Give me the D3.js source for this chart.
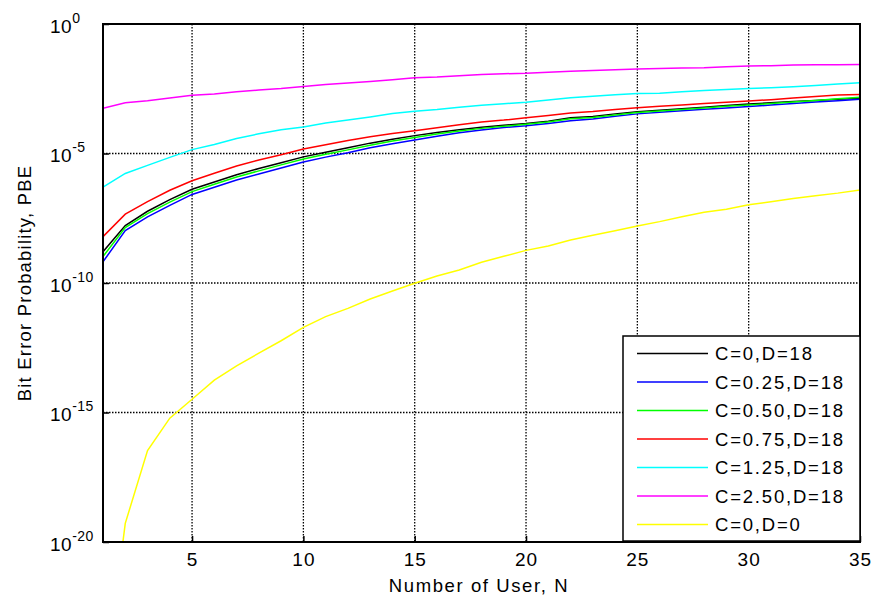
<!DOCTYPE html>
<html lang="en">
<head>
    <title>Bit Error Probability vs Number of Users</title>
    <meta charset="UTF-8">
    <script src="https://cdn.jsdelivr.net/npm/d3@7/dist/d3.min.js"></script>
    <style>
        body { margin: 0; background: #fff; }
        svg text { font-family: "Liberation Sans", Arial, sans-serif; fill: #000; }
    </style>
</head>
<body>
<div id="chart"></div>
<script type="text/javascript">

  // number of users N = 1..35
  const users = d3.range(1, 36);

  // log10(PBE), one value per N
  const c0d18 = [-8.79, -7.78, -7.23, -6.78, -6.38, -6.10, -5.82, -5.58, -5.36, -5.13,
                 -4.95, -4.78, -4.60, -4.45, -4.31, -4.19, -4.08, -3.99, -3.91, -3.84,
                 -3.75, -3.62, -3.57, -3.47, -3.39, -3.33, -3.27, -3.21, -3.15, -3.09,
                 -3.04, -2.99, -2.95, -2.91, -2.87];
  const c025d18 = [-9.18, -7.98, -7.45, -7.00, -6.58, -6.30, -6.02, -5.79, -5.56, -5.33,
                   -5.14, -4.97, -4.78, -4.62, -4.48, -4.33, -4.20, -4.09, -4.00, -3.93,
                   -3.84, -3.74, -3.67, -3.56, -3.47, -3.41, -3.35, -3.29, -3.24, -3.19,
                   -3.13, -3.07, -3.01, -2.96, -2.91];
  const c050d18 = [-8.98, -7.86, -7.32, -6.88, -6.47, -6.19, -5.91, -5.67, -5.44, -5.21,
                   -5.03, -4.86, -4.68, -4.52, -4.38, -4.25, -4.13, -4.03, -3.95, -3.87,
                   -3.78, -3.66, -3.61, -3.51, -3.42, -3.36, -3.30, -3.24, -3.18, -3.13,
                   -3.07, -3.01, -2.95, -2.89, -2.83];
  const c075d18 = [-8.21, -7.34, -6.86, -6.42, -6.05, -5.76, -5.48, -5.25, -5.05, -4.83,
                   -4.66, -4.50, -4.35, -4.23, -4.12, -4.01, -3.89, -3.78, -3.71, -3.62,
                   -3.53, -3.44, -3.38, -3.30, -3.23, -3.18, -3.13, -3.07, -3.02, -2.97,
                   -2.92, -2.86, -2.80, -2.74, -2.72];
  const c125d18 = [-6.30, -5.77, -5.46, -5.15, -4.85, -4.65, -4.42, -4.24, -4.08, -3.98,
                   -3.82, -3.71, -3.59, -3.46, -3.37, -3.30, -3.21, -3.14, -3.08, -3.02,
                   -2.93, -2.85, -2.79, -2.73, -2.68, -2.67, -2.62, -2.57, -2.53, -2.49,
                   -2.46, -2.42, -2.37, -2.32, -2.27];
  const c250d18 = [-3.25, -3.04, -2.96, -2.86, -2.75, -2.70, -2.62, -2.55, -2.49, -2.41,
                   -2.34, -2.28, -2.22, -2.15, -2.08, -2.05, -2.00, -1.95, -1.92, -1.90,
                   -1.86, -1.82, -1.80, -1.77, -1.74, -1.72, -1.70, -1.69, -1.65, -1.62,
                   -1.61, -1.58, -1.57, -1.57, -1.56];
  const c0d0 = [-26.0, -19.28, -16.47, -15.22, -14.49, -13.75, -13.20, -12.71, -12.23, -11.71,
                -11.30, -10.98, -10.62, -10.31, -10.01, -9.73, -9.50, -9.20, -8.97, -8.74,
                -8.57, -8.34, -8.16, -7.98, -7.80, -7.63, -7.44, -7.27, -7.15, -6.98,
                -6.86, -6.74, -6.63, -6.53, -6.41];

  const seriesNames = ['C=0,D=18', 'C=0.25,D=18', 'C=0.50,D=18', 'C=0.75,D=18',
                       'C=1.25,D=18', 'C=2.50,D=18', 'C=0,D=0'];
  const seriesColors = ['#000000', '#0000ff', '#00ff00', '#ff0000', '#00ffff', '#ff00ff', '#ffff00'];
  const seriesValues = [c0d18, c025d18, c050d18, c075d18, c125d18, c250d18, c0d0];

  const xTicks = [5, 10, 15, 20, 25, 30, 35];
  const yTickExps = [0, -5, -10, -15, -20];

  const width = 876, height = 599;
  const margin = {top: 24, right: 16, bottom: 57, left: 103};

  const x = d3.scaleLinear().domain([1, 35]).range([margin.left, width - margin.right]);
  const y = d3.scaleLog().domain([1e-20, 1]).range([height - margin.bottom, margin.top]);

  const svg = d3.select('#chart').append('svg')
      .attr('width', width)
      .attr('height', height);

  svg.append('defs').append('clipPath').attr('id', 'plot-clip')
      .append('rect')
      .attr('x', x(1)).attr('y', y(1))
      .attr('width', x(35) - x(1)).attr('height', y(1e-20) - y(1));

  // grid lines (dotted, MATLAB style)
  const grid = svg.append('g').attr('class', 'grid');
  grid.selectAll('line.vgrid')
      .data(xTicks.filter(d => d < 35))
      .join('line')
      .attr('class', 'vgrid')
      .attr('x1', d => x(d)).attr('x2', d => x(d))
      .attr('y1', y(1)).attr('y2', y(1e-20))
      .attr('stroke', '#000').attr('stroke-width', 1.3)
      .attr('stroke-dasharray', '1.5,1.5');
  grid.selectAll('line.hgrid')
      .data(yTickExps.filter(e => e < 0 && e > -20))
      .join('line')
      .attr('class', 'hgrid')
      .attr('x1', x(1)).attr('x2', x(35))
      .attr('y1', e => y(Math.pow(10, e))).attr('y2', e => y(Math.pow(10, e)))
      .attr('stroke', '#000').attr('stroke-width', 1.3)
      .attr('stroke-dasharray', '1.5,1.5');

  // data lines
  const line = d3.line()
      .x((d, i) => x(users[i]))
      .y(d => y(Math.pow(10, d)));

  svg.append('g').attr('clip-path', 'url(#plot-clip)')
      .selectAll('path')
      .data(seriesValues)
      .join('path')
      .attr('d', line)
      .attr('fill', 'none')
      .attr('stroke', (d, i) => seriesColors[i])
      .attr('stroke-width', 1.5);

  // axes box
  const xAxis = d3.axisBottom(x).tickValues(xTicks).tickSize(-6).tickPadding(11).tickFormat(d3.format('d'));
  const gx = svg.append('g')
      .attr('transform', `translate(0,${y(1e-20)})`)
      .call(xAxis);
  gx.select('.domain').remove();
  gx.selectAll('line').attr('stroke', '#000').attr('stroke-width', 1.5);
  gx.selectAll('text').attr('font-size', 19).attr('letter-spacing', 1);

  const yAxis = d3.axisLeft(y).tickValues(yTickExps.map(e => Math.pow(10, e))).tickSize(-6).tickFormat('');
  const gy = svg.append('g')
      .attr('transform', `translate(${x(1)},0)`)
      .call(yAxis);
  gy.select('.domain').remove();
  gy.selectAll('line').attr('stroke', '#000').attr('stroke-width', 1.5);

  // y tick labels as 10^n
  const yLab = svg.append('g').selectAll('text')
      .data(yTickExps)
      .join('text')
      .attr('x', 50)
      .attr('y', e => y(Math.pow(10, e)) + 8.5)
      .attr('font-size', 19)
      .attr('letter-spacing', 0.5);
  yLab.append('tspan').text('10');
  yLab.append('tspan')
      .attr('font-size', 14)
      .attr('dy', -10)
      .text(e => String(e));

  svg.append('rect')
      .attr('x', x(1)).attr('y', y(1))
      .attr('width', x(35) - x(1)).attr('height', y(1e-20) - y(1))
      .attr('fill', 'none')
      .attr('stroke', '#000')
      .attr('stroke-width', 2);

  // axis titles
  svg.append('text')
      .attr('x', 479)
      .attr('y', 592)
      .attr('text-anchor', 'middle')
      .attr('font-size', 18.5)
      .attr('letter-spacing', 1.6)
      .text('Number of User, N');

  svg.append('text')
      .attr('transform', `translate(31,${(y(1) + y(1e-20)) / 2}) rotate(-90)`)
      .attr('text-anchor', 'middle')
      .attr('font-size', 18.5)
      .attr('letter-spacing', 1.2)
      .text('Bit Error Probability, PBE');

  // legend
  const legend = svg.append('g').attr('transform', 'translate(623,336)');
  legend.append('rect')
      .attr('width', 237).attr('height', 205)
      .attr('fill', '#fff')
      .attr('stroke', '#000')
      .attr('stroke-width', 1.5);
  const rows = legend.selectAll('g.row')
      .data(seriesNames)
      .join('g')
      .attr('class', 'row')
      .attr('transform', (d, i) => `translate(0,${17.5 + i * 28.5})`);
  rows.append('line')
      .attr('x1', 14).attr('x2', 85)
      .attr('stroke', (d, i) => seriesColors[i])
      .attr('stroke-width', 1.5);
  rows.append('text')
      .attr('x', 92)
      .attr('y', 6.5)
      .attr('font-size', 18.5)
      .attr('letter-spacing', 1.8)
      .text(d => d);

</script>
</body>
</html>
